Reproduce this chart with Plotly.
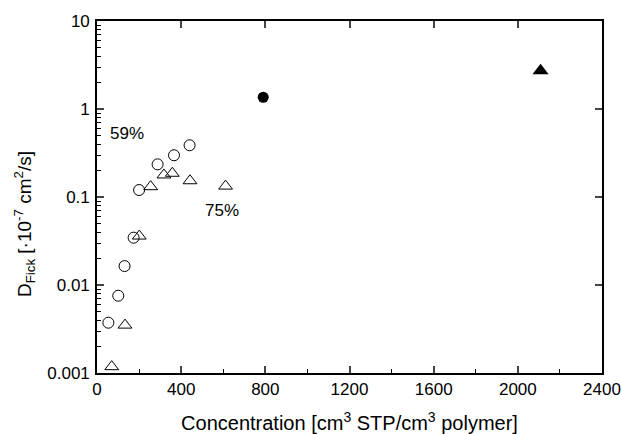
import plotly.graph_objects as go

# Open circles: 59% series
conc_59 = [54, 101, 131, 174, 200, 288, 366, 440]
dfick_59 = [0.00373, 0.00755, 0.0164, 0.0345, 0.120, 0.235, 0.298, 0.387]

# Open triangles: 75% series
conc_75 = [70, 133, 201, 255, 318, 358, 442, 611]
dfick_75 = [0.00118, 0.0035, 0.036, 0.131, 0.178, 0.186, 0.153, 0.133]

# Filled symbols
conc_fill_circle = [790]
dfick_fill_circle = [1.36]
conc_fill_tri = [2108]
dfick_fill_tri = [2.72]

x_ticks = [0, 400, 800, 1200, 1600, 2000, 2400]
y_ticks = [0.001, 0.01, 0.1, 1, 10]
y_tick_text = ["0.001", "0.01", "0.1", "1", "10"]

font_family = "Liberation Sans, Arial, sans-serif"

fig = go.Figure()
fig.add_trace(go.Scatter(
    x=conc_59, y=dfick_59, mode="markers",
    marker=dict(symbol="circle-open", size=11, color="black", line=dict(width=1)),
    showlegend=False))
fig.add_trace(go.Scatter(
    x=conc_75, y=dfick_75, mode="markers",
    marker=dict(symbol="triangle-up-open", size=12, color="black", line=dict(width=1)),
    showlegend=False))
fig.add_trace(go.Scatter(
    x=conc_fill_circle, y=dfick_fill_circle, mode="markers",
    marker=dict(symbol="circle", size=11, color="black"),
    showlegend=False))
fig.add_trace(go.Scatter(
    x=conc_fill_tri, y=dfick_fill_tri, mode="markers",
    marker=dict(symbol="triangle-up", size=14, color="black"),
    showlegend=False))
# invisible trace to anchor the mirrored top/right tick axes
fig.add_trace(go.Scatter(x=[None], y=[None], xaxis="x2", yaxis="y2",
                         showlegend=False, hoverinfo="skip"))

minor_y = [m * 10 ** e for e in range(-3, 1) for m in range(2, 10)]

fig.update_layout(
    width=622, height=434,
    margin=dict(l=97, r=20, t=21, b=61),
    paper_bgcolor="white", plot_bgcolor="white",
    font=dict(family=font_family, size=17, color="black"),
    xaxis=dict(
        range=[0, 2400], tickvals=x_ticks, ticks="inside", ticklen=7, tickwidth=1.5,
        showline=True, linewidth=1.6, linecolor="black", mirror=True,
        showgrid=False, zeroline=False, automargin=False,
        minor=dict(tickvals=[200, 600, 1000, 1400, 1800, 2200], ticks="inside",
                   ticklen=4, tickwidth=1.2, tickcolor="black", showgrid=False),
        tickfont=dict(size=17),
        title=dict(text="Concentration [cm<sup>3</sup> STP/cm<sup>3</sup> polymer]",
                   font=dict(size=20), standoff=18),
    ),
    yaxis=dict(
        type="log", range=[-3, 1], tickvals=y_ticks, ticktext=y_tick_text,
        ticks="inside", ticklen=7, tickwidth=1.5, ticklabelstandoff=2,
        showline=True, linewidth=1.6, linecolor="black", mirror=True,
        showgrid=False, zeroline=False, automargin=False,
        minor=dict(tickvals=minor_y, ticks="inside", ticklen=4, tickwidth=1.2,
                   tickcolor="black", showgrid=False),
        tickfont=dict(size=17),
    ),
    xaxis2=dict(
        overlaying="x", side="top", range=[0, 2400], tickvals=x_ticks,
        ticks="inside", ticklen=7, tickwidth=1.5, showticklabels=False,
        showgrid=False, zeroline=False, showline=False, automargin=False,
    ),
    yaxis2=dict(
        overlaying="y", side="right", type="log", range=[-3, 1], tickvals=y_ticks,
        ticks="inside", ticklen=7, tickwidth=1.5, showticklabels=False,
        showgrid=False, zeroline=False, showline=False, automargin=False,
    ),
    annotations=[
        dict(x=-0.1446, y=0.423, xref="paper", yref="paper", textangle=-90,
             text="D<sub>Fick</sub> [·10<sup>-7</sup> cm<sup>2</sup>/s]",
             showarrow=False, font=dict(size=19), xanchor="center", yanchor="middle"),
        dict(x=144, y=-0.276, xref="x", yref="y", text="59%", showarrow=False,
             font=dict(size=17)),
        dict(x=593, y=-1.148, xref="x", yref="y", text="75%", showarrow=False,
             font=dict(size=17)),
    ],
)

fig.write_html("out.html")
